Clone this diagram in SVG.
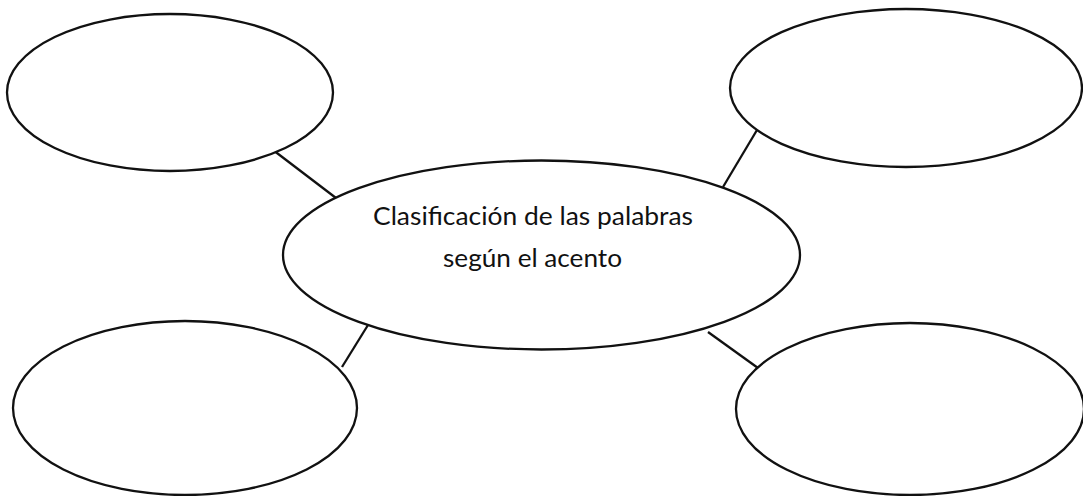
<svg xmlns="http://www.w3.org/2000/svg" width="1083" height="496" viewBox="0 0 1083 496">
<style>
.node{fill:#ffffff;stroke:#111111;stroke-width:2.3}
.conn{stroke:#111111;stroke-width:2.3;fill:none}
.lbl{font-family:Lato,"Liberation Sans",Arial,sans-serif;font-size:25px;fill:#111111;text-anchor:middle}
</style>
<rect width="1083" height="496" fill="#ffffff"/>
<g id="connectors">
<line class="conn" x1="273" y1="150" x2="336" y2="198"/>
<line class="conn" x1="757" y1="130" x2="723" y2="187"/>
<line class="conn" x1="368" y1="325" x2="342" y2="367"/>
<line class="conn" x1="708" y1="332" x2="758" y2="368"/>
</g>
<g id="node-top-left"><ellipse class="node" cx="170" cy="92.5" rx="163" ry="78.5"/></g>
<g id="node-top-right"><ellipse class="node" cx="906" cy="88" rx="176" ry="79"/></g>
<g id="node-bottom-left"><ellipse class="node" cx="185" cy="408" rx="172" ry="87"/></g>
<g id="node-bottom-right"><ellipse class="node" cx="910" cy="409" rx="174" ry="86"/></g>
<g id="node-center">
<ellipse class="node" cx="541.5" cy="255" rx="258.5" ry="94.5"/>
<text class="lbl" x="533" y="225" textLength="320" lengthAdjust="spacingAndGlyphs">Clasificación de las palabras</text>
<text class="lbl" x="532.5" y="267" textLength="179" lengthAdjust="spacingAndGlyphs">según el acento</text>
</g>
</svg>
